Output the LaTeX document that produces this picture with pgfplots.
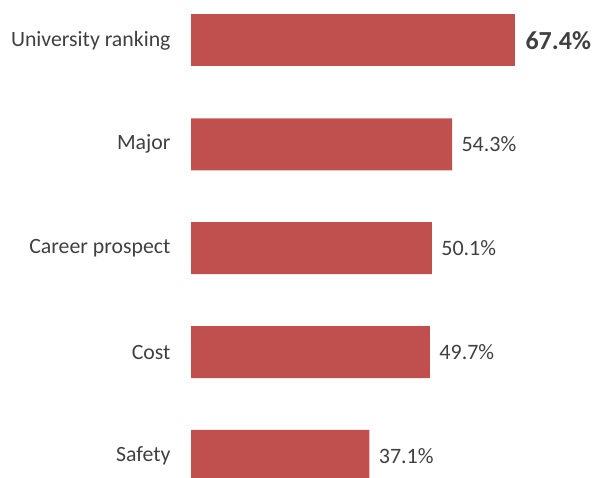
\documentclass[border=0pt]{standalone}
\usepackage{fontspec}
\setmainfont{Carlito}
\usepackage{pgfplots}
\pgfplotsset{compat=1.18}
\definecolor{barred}{HTML}{C0504D}
\definecolor{txt}{HTML}{404040}
\begin{document}
\begin{tikzpicture}[x=1pt,y=1pt]
\useasboundingbox (0,0) rectangle (599,478);
\begin{axis}[
  at={(191pt,22pt)}, anchor=origin,
  x=4.807pt, y=103.9pt,
  xmin=0, xmax=67.4, ymin=0, ymax=4,
  xbar, bar width=52pt, bar shift=0pt,
  hide x axis,
  axis y line*=left, y axis line style={draw=none},
  ytick={0,...,4},
  yticklabels={Safety,Cost,Career prospect,Major,University ranking},
  major tick length=0pt,
  yticklabel style={font=\fontsize{21.8}{24}\selectfont, text=txt, xshift=-17pt},
  clip=false,
  point meta=x,
  /pgf/number format/assume math mode=true,
  nodes near coords={\pgfmathprintnumber[fixed,fixed zerofill,precision=1]{\pgfplotspointmeta}\%},
  every node near coord/.append style={font=\fontsize{22}{24}\selectfont, text=txt, xshift=6pt},
]
\addplot[fill=barred, draw=none] coordinates {(37.1,0) (49.7,1) (50.1,2) (54.3,3)};
\addplot[fill=barred, draw=none,
  every node near coord/.append style={font=\fontsize{26}{30}\selectfont\bfseries, xshift=1pt}]
  coordinates {(67.4,4)};
\end{axis}
\end{tikzpicture}
\end{document}
